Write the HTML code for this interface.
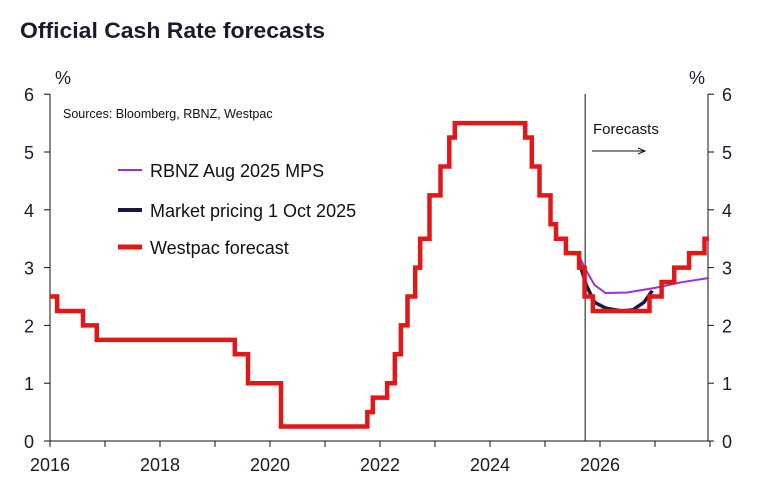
<!DOCTYPE html>
<html><head><meta charset="utf-8"><style>
body{margin:0;background:#fff;}
svg{display:block;font-family:"Liberation Sans",Arial,sans-serif;}
</style></head><body>
<svg width="760" height="501" viewBox="0 0 760 501">
<text x="20" y="38" font-size="22" font-weight="bold" fill="#1a1a2e" textLength="305" lengthAdjust="spacingAndGlyphs">Official Cash Rate forecasts</text>
<g id="axes"></g>
<g id="series"></g>
<text x="63" y="118" font-size="12.5" fill="#111">Sources: Bloomberg, RBNZ, Westpac</text>
<text x="593" y="134" font-size="15" fill="#111">Forecasts</text>
<g><line x1="592" y1="151" x2="644" y2="151" stroke="#111" stroke-width="1"/><path d="M638 148 L645 151 L638 154" fill="none" stroke="#111" stroke-width="1"/></g>
<g>
<g><line x1="118" y1="170" x2="142" y2="170" stroke="#9b30d9" stroke-width="2"/><text x="150" y="177" font-size="18" fill="#111">RBNZ Aug 2025 MPS</text></g>
<g><line x1="118" y1="210" x2="142" y2="210" stroke="#1a1840" stroke-width="4"/><text x="150" y="217" font-size="18" fill="#111">Market pricing 1 Oct 2025</text></g>
<g><line x1="118" y1="247" x2="142" y2="247" stroke="#e01818" stroke-width="5"/><text x="150" y="254" font-size="18" fill="#111">Westpac forecast</text></g>
</g>
</svg>
<script>
const yTicks=[0,1,2,3,4,5,6];
const xLabels=[2016,2018,2020,2022,2024,2026];
const westpacDates=[2016.0,2016.13,2016.6,2016.85,2019.36,2019.6,2020.2,2021.77,2021.87,2022.13,2022.27,2022.38,2022.5,2022.64,2022.73,2022.9,2023.1,2023.26,2023.36,2024.64,2024.76,2024.9,2025.1,2025.2,2025.38,2025.62,2025.72,2025.87,2026.9,2027.12,2027.35,2027.62,2027.9];
const westpacRates=[2.5,2.25,2.0,1.75,1.5,1.0,0.25,0.5,0.75,1.0,1.5,2.0,2.5,3.0,3.5,4.25,4.75,5.25,5.5,5.25,4.75,4.25,3.75,3.5,3.25,3.0,2.5,2.25,2.5,2.75,3.0,3.25,3.5];
const westpacEnd=2027.98;
const rbnzDates=[2025.62,2025.72,2025.9,2026.1,2026.5,2027.0,2027.5,2027.98];
const rbnzRates=[3.2,3.0,2.7,2.56,2.57,2.65,2.75,2.82];
const mktDates=[2025.62,2025.75,2025.9,2026.1,2026.4,2026.6,2026.8,2026.95];
const mktRates=[3.1,2.7,2.4,2.3,2.25,2.27,2.4,2.6];
const forecastStart=2025.73;
const X=t=>50+(t-2016)*55;
const Y=v=>441-v*57.8;
const NS="http://www.w3.org/2000/svg";
function mk(tag,attrs,parent){const e=document.createElementNS(NS,tag);for(const k in attrs)e.setAttribute(k,attrs[k]);parent.appendChild(e);return e;}
const ax=document.getElementById('axes');
let e;
e=mk('line',{x1:50,y1:94,x2:50,y2:441,stroke:'#111','stroke-width':1},ax);


e=mk('line',{x1:708,y1:94,x2:708,y2:441,stroke:'#111','stroke-width':1},ax);


e=mk('line',{x1:50,y1:441,x2:708,y2:441,stroke:'#111','stroke-width':1},ax);


e=mk('line',{x1:X(forecastStart),y1:94,x2:X(forecastStart),y2:441,stroke:'#111','stroke-width':1},ax);


yTicks.forEach(v=>{
 mk('line',{x1:44,y1:Y(v),x2:50,y2:Y(v),stroke:'#111'},ax);
 mk('line',{x1:708,y1:Y(v),x2:714,y2:Y(v),stroke:'#111'},ax);
 let t=mk('text',{x:34,y:Y(v)+7,'font-size':18,'text-anchor':'end',fill:'#1a1a2e'},ax);t.textContent=v;
 
 
 t=mk('text',{x:722,y:Y(v)+7,'font-size':18,fill:'#1a1a2e'},ax);t.textContent=v;
 
 
});
let p=mk('text',{x:55,y:84,'font-size':18,fill:'#1a1a2e'},ax);p.textContent='%';


p=mk('text',{x:689,y:84,'font-size':18,fill:'#1a1a2e'},ax);p.textContent='%';


for(let yr=2016;yr<=2028;yr++){mk('line',{x1:X(yr),y1:441,x2:X(yr),y2:447,stroke:'#111'},ax);}
xLabels.forEach(yr=>{const t=mk('text',{x:X(yr),y:471,'font-size':18,'text-anchor':'middle',fill:'#1a1a2e'},ax);t.textContent=yr;
 
 });
const sg=document.getElementById('series');
let d=mk('polyline',{points:rbnzDates.map((t,i)=>X(t)+','+Y(rbnzRates[i])).join(' '),fill:'none',stroke:'#9b30d9','stroke-width':2},sg);


d=mk('polyline',{points:mktDates.map((t,i)=>X(t)+','+Y(mktRates[i])).join(' '),fill:'none',stroke:'#1a1840','stroke-width':3.5,'stroke-linejoin':'round'},sg);


let pts=[];
westpacDates.forEach((t,i)=>{const nt=i+1<westpacDates.length?westpacDates[i+1]:westpacEnd;pts.push(X(t)+','+Y(westpacRates[i]));pts.push(X(nt)+','+Y(westpacRates[i]));});
d=mk('polyline',{points:pts.join(' '),fill:'none',stroke:'#e01818','stroke-width':4.5,'stroke-linejoin':'miter'},sg);


</script>
</body></html>
